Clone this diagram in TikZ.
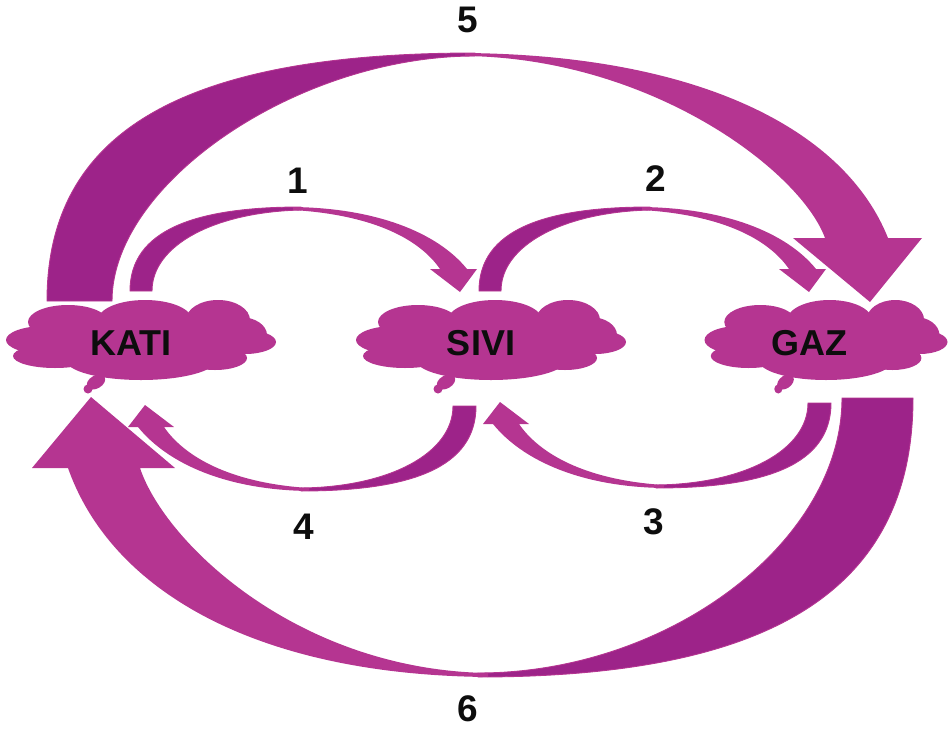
\documentclass[tikz,border=0pt]{standalone}
\usepackage{fontspec}
\setmainfont{Liberation Sans}
\definecolor{mlight}{RGB}{181,53,145}
\definecolor{mdark}{RGB}{157,35,137}
\tikzset{
  lightpart/.style={fill=mlight},
  darkpart/.style={fill=mdark, draw=mlight, line width=0.9pt},
  lbl/.style={font=\bfseries\fontsize{37}{40}\selectfont, inner sep=0pt, text=black!95},
  cloudtxt/.style={font=\bfseries\fontsize{36}{40}\selectfont, inner sep=0pt, text=black!95},
}
\newcommand\mycloud[3]{%
  \begin{scope}[shift={(#1,#2)}, xscale=#3]
    \fill[mlight] (-96,0) ellipse [x radius=39, y radius=14];
    \fill[mlight] (-73,-18) ellipse [x radius=40, y radius=17];
    \fill[mlight] (4,-20) ellipse [x radius=47, y radius=20];
    \fill[mlight] (77,-20) ellipse [x radius=32, y radius=20];
    \fill[mlight] (99,-5) ellipse [x radius=27, y radius=18];
    \fill[mlight] (104,2) ellipse [x radius=31, y radius=12];
    \fill[mlight] (74,18) ellipse [x radius=32, y radius=12];
    \fill[mlight] (0,20) ellipse [x radius=75, y radius=20];
    \fill[mlight] (-86,16) ellipse [x radius=42, y radius=12];
    \fill[mlight] (0,0) ellipse [x radius=110, y radius=25];
    \fill[mlight, shift={(-45,42)}, rotate=30] (0,0) ellipse [x radius=10, y radius=6.5];
    \fill[mlight] (-53,49) circle [radius=4.5];
  \end{scope}}
\begin{document}
\begin{tikzpicture}[x=1pt, y=-1pt]
\useasboundingbox (0,0) rectangle (948,731);

% arrow 5 (KATI -> GAZ, top, big)
\path[darkpart] (47,301) .. controls (47,132) and (182,53) .. (475,53) -- (475,56)
  .. controls (298,56) and (112,183) .. (112,301) -- cycle;
\path[lightpart] (465,53) .. controls (700,55) and (845,130) .. (888,238)
  -- (922,238) -- (870,302) -- (793,238) -- (825,238)
  .. controls (800,170) and (650,58) .. (465,56) -- cycle;

% arrow 6 (GAZ -> KATI, bottom, big)
\path[darkpart] (913,398) .. controls (913,588) and (775,677) .. (478,677) -- (478,673)
  .. controls (670,673) and (842,541) .. (842,398) -- cycle;
\path[lightpart] (488,677) .. controls (255,675) and (111,590) .. (68,468)
  -- (32,468) -- (91,397) -- (175,468) -- (140,468)
  .. controls (165,543) and (298,670) .. (488,673) -- cycle;

% arrows 1 and 2 (top, small)
\foreach \dx in {0,349}{
  \begin{scope}[shift={(\dx,0)}]
    \path[darkpart] (130,291) .. controls (130,230) and (195,207) .. (301,207) -- (301,210)
      .. controls (215,212) and (152,245) .. (152,291) -- cycle;
    \path[lightpart] (293,207) .. controls (375,208) and (437,232) .. (467,269)
      -- (477,269) -- (460,292) -- (430,269) -- (440,269)
      .. controls (420,240) and (375,215) .. (293,210) -- cycle;
  \end{scope}
}

% arrows 3 and 4 (bottom, small)
\foreach \dx/\dy in {0/0,-355/3}{
  \begin{scope}[shift={(\dx,\dy)}]
    \path[darkpart] (831,403) .. controls (831,465) and (765,488) .. (656,488) -- (656,485)
      .. controls (745,484) and (808,450) .. (808,403) -- cycle;
    \path[lightpart] (664,488) .. controls (582,487) and (523,461) .. (493,424)
      -- (483,424) -- (500,402) -- (529,424) -- (519,424)
      .. controls (539,453) and (584,480) .. (664,485) -- cycle;
  \end{scope}
}

% clouds
\mycloud{141}{340}{1}
\mycloud{491}{340}{1}
\mycloud{826}{340}{0.9}

\node[cloudtxt] (kati) at (131,343) {KATI};
\node[cloudtxt] (sivi) at (481,343) {SIVI};
\node[cloudtxt] (gaz) at (809,343) {GAZ};

\node[lbl] (l5) at (468,20) {5};
\node[lbl] (l1) at (298,181) {1};
\node[lbl] (l2) at (656,179) {2};
\node[lbl] (l3) at (654,522) {3};
\node[lbl] (l4) at (304,527) {4};
\node[lbl] (l6) at (468,709) {6};
\end{tikzpicture}
\end{document}
